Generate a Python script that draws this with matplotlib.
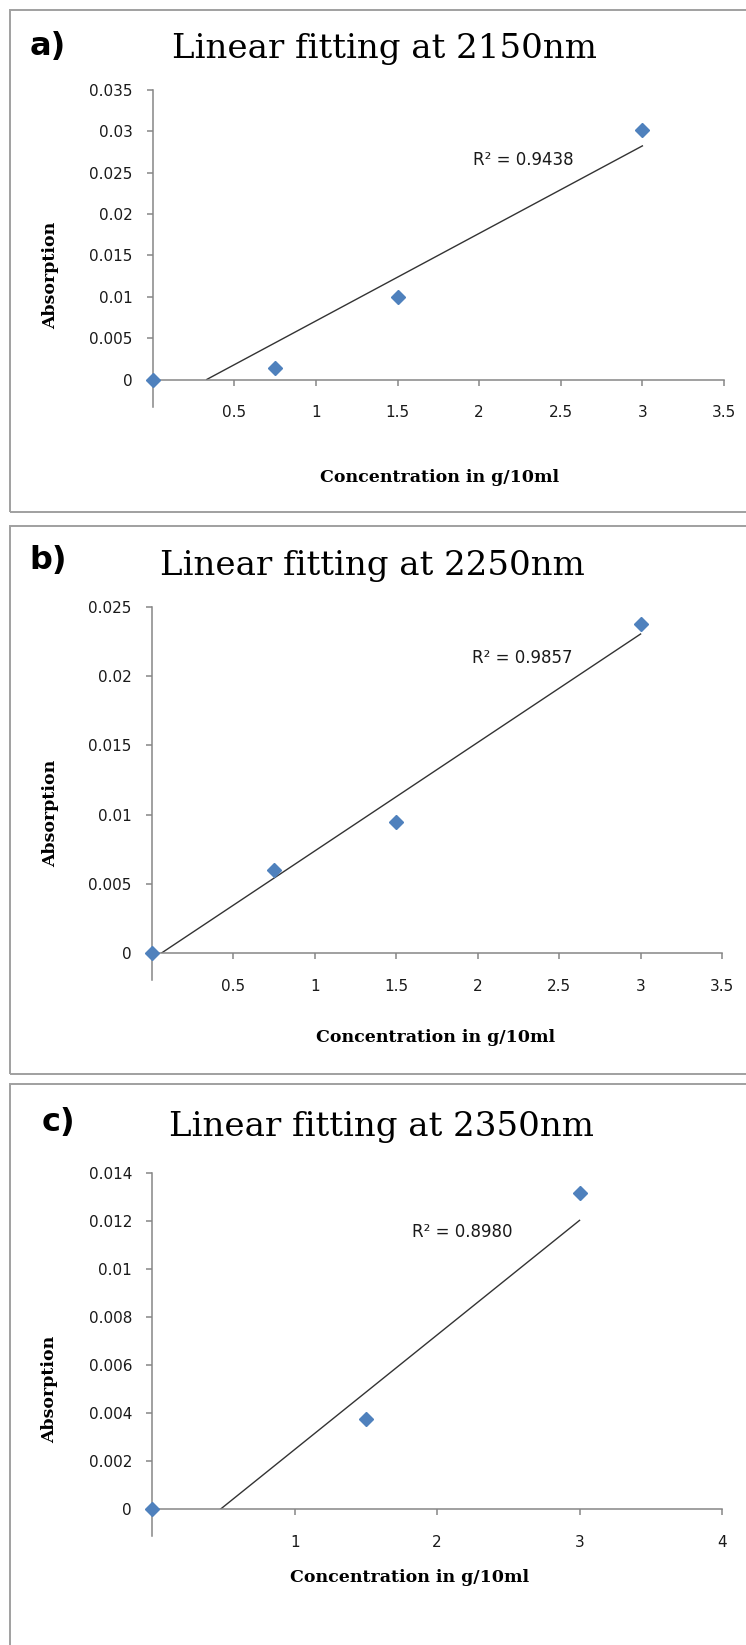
import numpy as np
import matplotlib.pyplot as plt
from matplotlib.patches import Rectangle

W, H = 746, 1645

# data (concentration g/10ml -> absorption)
conc_a = [0, 0.75, 1.5, 3]
abs_a = [0, 0.00135, 0.0100, 0.0302]
conc_b = [0, 0.75, 1.5, 3]
abs_b = [0, 0.0060, 0.0095, 0.0238]
# in c) the 0.75 point lies below the axis minimum, so it is not shown,
# but it still counts in the trendline (that gives R² = 0.898)
conc_c = [0, 0.75, 1.5, 3]
abs_c = [0, -0.001, 0.00377, 0.01314]

letters = ['a)', 'b)', 'c)']
titles = ['Linear fitting at 2150nm', 'Linear fitting at 2250nm', 'Linear fitting at 2350nm']
r2_labels = ['R² = 0.9438', 'R² = 0.9857', 'R² = 0.8980']

y_ticks_a = [0, 0.005, 0.01, 0.015, 0.02, 0.025, 0.03, 0.035]
y_labels_a = ['0', '0.005', '0.01', '0.015', '0.02', '0.025', '0.03', '0.035']
y_ticks_b = [0, 0.005, 0.01, 0.015, 0.02, 0.025]
y_labels_b = ['0', '0.005', '0.01', '0.015', '0.02', '0.025']
y_ticks_c = [0, 0.002, 0.004, 0.006, 0.008, 0.01, 0.012, 0.014]
y_labels_c = ['0', '0.002', '0.004', '0.006', '0.008', '0.01', '0.012', '0.014']

x_ticks_ab = [0.5, 1, 1.5, 2, 2.5, 3, 3.5]
x_labels_ab = ['0.5', '1', '1.5', '2', '2.5', '3', '3.5']
x_ticks_c = [1, 2, 3, 4]
x_labels_c = ['1', '2', '3', '4']

AXIS_GRAY = '#868686'
FRAME_GRAY = '#a0a0a0'
BLUE = '#4f81bd'


def fx(px):
    return px / W


def fy(py):
    return 1 - py / H


fig = plt.figure(figsize=(W / 100, H / 100), dpi=100)

# panel frames (they run off the right edge of the picture)
frames = [(10, 9.5, 512), (10, 526, 1074), (10, 1084, 1720)]
for left, top, bottom in frames:
    fig.patches.append(Rectangle((fx(left), fy(bottom)), 2, (bottom - top) / H,
                                 transform=fig.transFigure, fill=False,
                                 edgecolor=FRAME_GRAY, linewidth=1.4))


def draw_panel(i, x, y, xticks, xlabels, yticks, ylabels, box, text_pos):
    left, right, y0, ytop = box
    ax = fig.add_axes([fx(left), fy(y0), (right - left) / W, (y0 - ytop) / H])
    x = np.array(x)
    y = np.array(y)
    ax.set_xlim(0, xticks[-1])
    ax.set_ylim(0, yticks[-1])

    # linear trendline, clipped at the x axis like the spreadsheet does
    m, b = np.polyfit(x, y, 1)
    x_start = max(x.min(), -b / m) if b < 0 else x.min()
    xs = np.array([x_start, x.max()])
    ax.plot(xs, m * xs + b, color='#333333', linewidth=1.0, zorder=2)

    shown = y >= 0
    ax.plot(x[shown], y[shown], linestyle='none', marker='D', markersize=7.5,
            color=BLUE, clip_on=False, zorder=3)

    for s in ['top', 'right']:
        ax.spines[s].set_visible(False)
    for s in ['left', 'bottom']:
        ax.spines[s].set_color(AXIS_GRAY)
        ax.spines[s].set_linewidth(1.1)
    ax.patch.set_alpha(0)

    # the vertical axis keeps going down past zero
    ext = 27 / (y0 - ytop)
    ax.plot([0, 0], [0, -ext], transform=ax.get_xaxis_transform(),
            color=AXIS_GRAY, linewidth=1.1, clip_on=False)

    ax.set_xticks(xticks)
    ax.set_xticklabels(xlabels)
    ax.set_yticks(yticks)
    ax.set_yticklabels(ylabels)
    ax.tick_params(axis='both', direction='out', length=4, width=1.1,
                   color=AXIS_GRAY, labelsize=11, labelcolor='#1a1a1a')
    ax.tick_params(axis='y', pad=10.5)
    ax.tick_params(axis='x', pad=14.5)
    for lab in ax.get_xticklabels() + ax.get_yticklabels():
        lab.set_family('DejaVu Sans')

    letter_xy, title_xy, r2_xy, ylab_xy, xlab_xy = text_pos
    fig.text(fx(letter_xy[0]), fy(letter_xy[1]), letters[i], family='DejaVu Sans',
             weight='bold', fontsize=23, ha='center', va='center')
    fig.text(fx(title_xy[0]), fy(title_xy[1]), titles[i], family='DejaVu Serif',
             fontsize=24.5, ha='center', va='center')
    fig.text(fx(r2_xy[0]), fy(r2_xy[1]), r2_labels[i], family='DejaVu Sans',
             fontsize=12, ha='left', va='center', color='#1a1a1a')
    fig.text(fx(ylab_xy[0]), fy(ylab_xy[1]), 'Absorption', family='DejaVu Serif',
             weight='bold', fontsize=12.5, rotation=90, ha='center', va='center')
    fig.text(fx(xlab_xy[0]), fy(xlab_xy[1]), 'Concentration in g/10ml',
             family='DejaVu Serif', weight='bold', fontsize=12.5,
             ha='center', va='center')
    return ax


draw_panel(0, conc_a, abs_a, x_ticks_ab, x_labels_ab, y_ticks_a, y_labels_a,
           (152.7, 724, 379.5, 90),
           ((48, 47), (384, 49), (473, 160), (51, 275), (439.5, 478)))
draw_panel(1, conc_b, abs_b, x_ticks_ab, x_labels_ab, y_ticks_b, y_labels_b,
           (152, 722, 953, 607),
           ((48, 560), (372, 566), (472, 658), (51, 813), (435.5, 1038)))
draw_panel(2, conc_c, abs_c, x_ticks_c, x_labels_c, y_ticks_c, y_labels_c,
           (152.2, 722, 1509.4, 1172.6),
           ((58, 1123), (381, 1127), (411.5, 1232), (50, 1389), (410, 1578)))

fig.savefig('out.png', dpi=100)
